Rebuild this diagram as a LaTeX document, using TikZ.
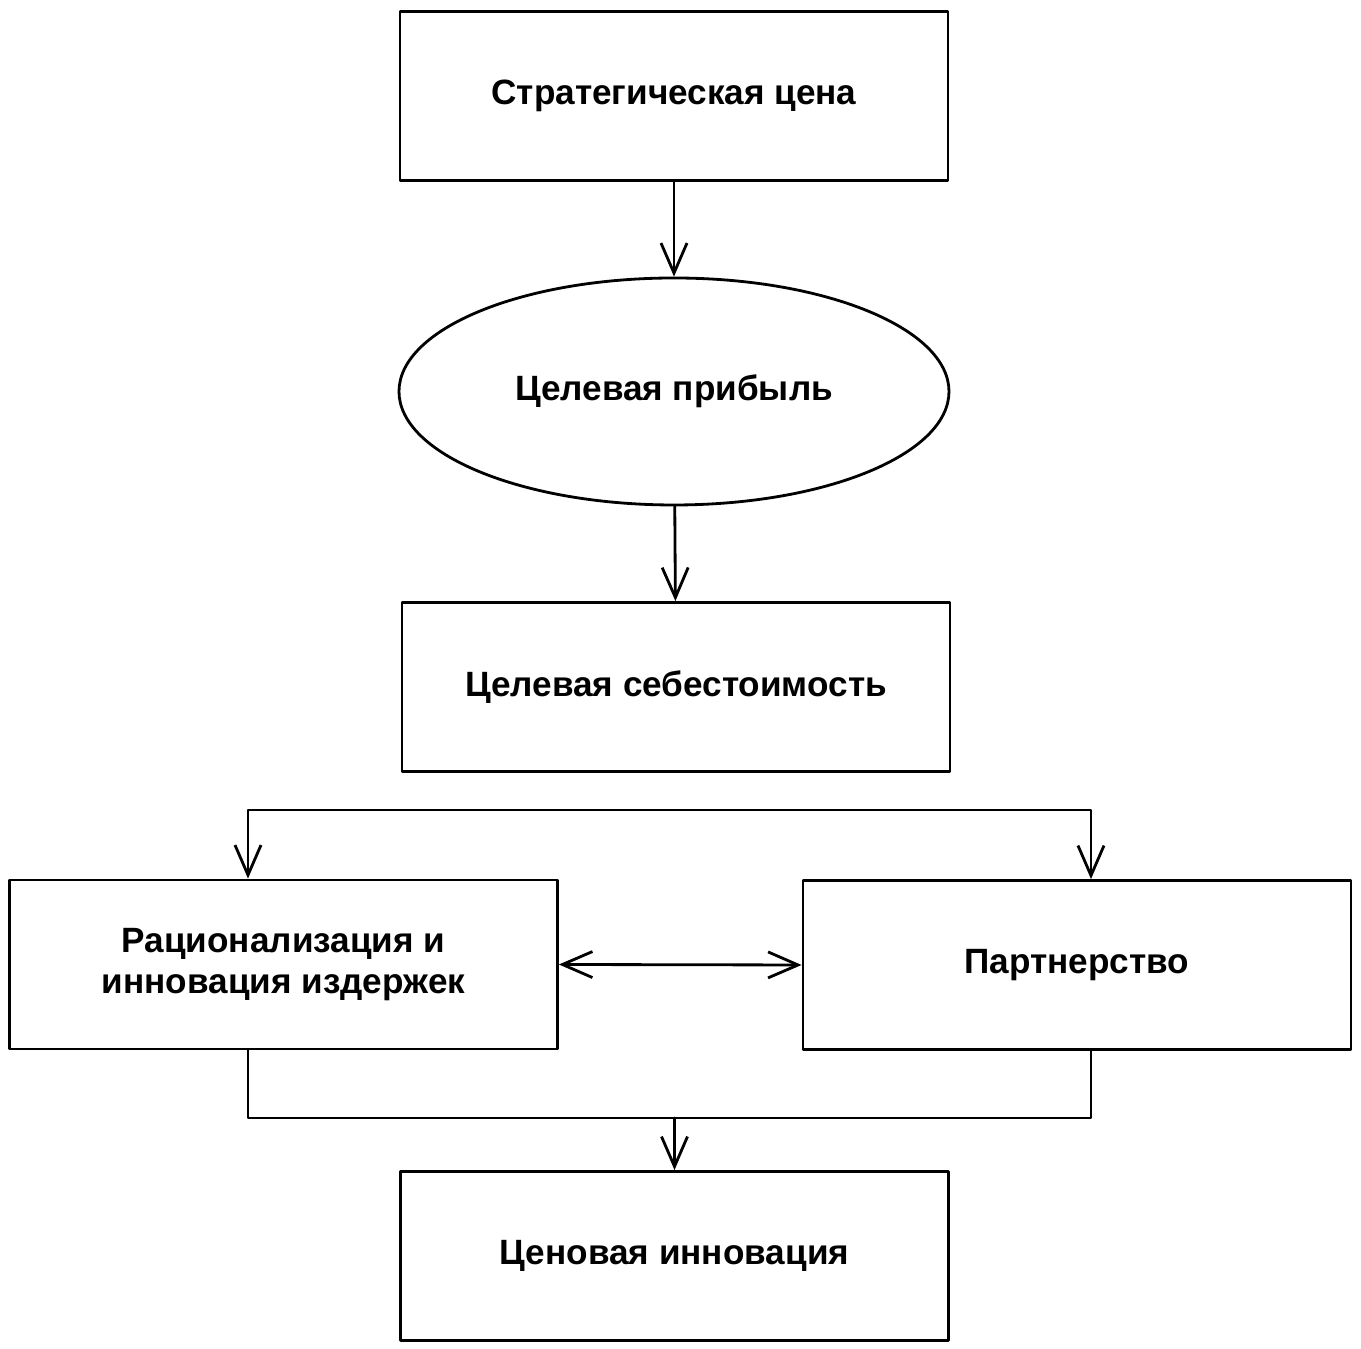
\documentclass[tikz,border=0pt]{standalone}
\usepackage{fontspec}
\setmainfont{Liberation Sans}
\usetikzlibrary{arrows.meta,shapes.geometric}
\begin{document}
\begin{tikzpicture}[font=\bfseries\fontsize{10}{11.5}\selectfont, line width=0.8pt, line join=round, line cap=round, >={Straight Barb[length=3mm,width=2.6mm,line width=0.8pt]},
	box/.style={draw, rectangle, minimum width=5.48cm, minimum height=1.69cm, align=center, inner sep=0pt},
	oval/.style={draw, ellipse, minimum width=5.5cm, minimum height=2.27cm, inner sep=0pt}]
	\useasboundingbox (0,0) rectangle (13.61,-13.49);
	\path
	(2.48,-8.10) coordinate (sL)
	(10.91,-8.10) coordinate (sR)
	(2.48,-11.18) coordinate (mL)
	(10.91,-11.18) coordinate (mR)
	;
	\node[box] (strat) at (6.74,-0.96) {Стратегическая цена};
	\node[oval] (prof) at (6.74,-3.915) {Целевая прибыль};
	\node[box] (cost) at (6.76,-6.87) {Целевая себестоимость};
	\node[box] (rat) at (2.835,-9.645) {Рационализация и\\инновация издержек};
	\node[box] (part) at (10.77,-9.65) {Партнерство};
	\node[box] (innov) at (6.745,-12.56) {Ценовая инновация};
	\draw[->] (strat) -- (prof);
	\draw[->] (prof) -- (cost);
	\draw[<->] (rat.north -| sL) -- (sL) -- (sR) -- (part.north -| sR);
	\draw[<->] (rat.east) -- (part.west);
	\draw (rat.south -| mL) -- (mL) -- (mR) -- (part.south -| mR);
	\draw[->] (mL -| innov) -- (innov);
\end{tikzpicture}
\end{document}
